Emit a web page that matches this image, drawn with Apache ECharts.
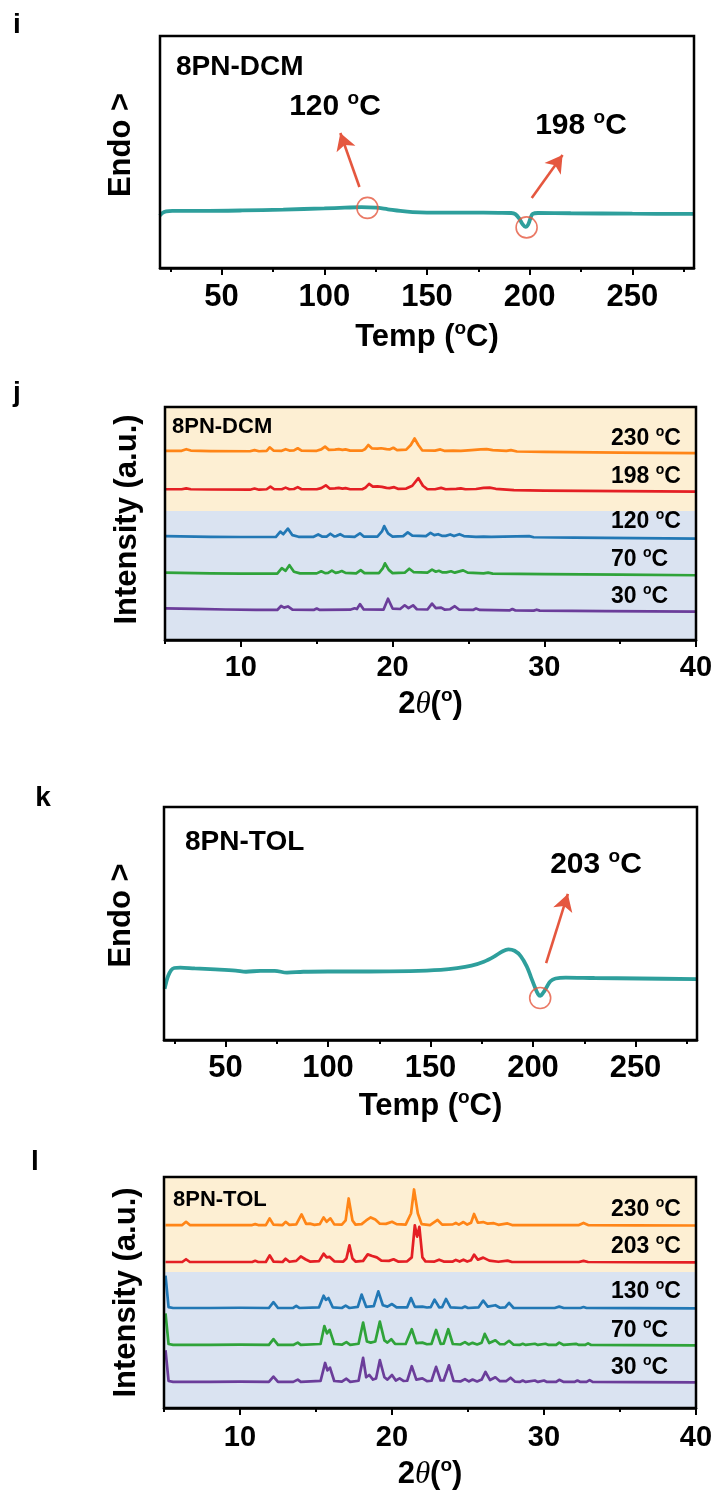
<!DOCTYPE html>
<html><head><meta charset="utf-8">
<script src="https://cdn.jsdelivr.net/npm/echarts@6/dist/echarts.min.js"></script>
<style>html,body{margin:0;padding:0;background:#fff}#c{width:716px;height:1490px}</style>
</head><body><div id="c"></div>
<script>
// ---------------- DATA ----------------
// DSC curves: [Temp (°C), heat flow (a.u., endo up)]
const dscDcm = [[20,22.6],[21,23.6],[23,24.4],[26,24.6],[40,24.6],[60,24.8],[80,25.2],[100,25.7],[110,26.0],[118,26.2],[125,26.0],[131,25.3],[137,24.6],[143,24.1],[150,23.9],[170,23.9],[185,23.8],[191,23.7],[193,23.2],[195,21.2],[196.5,18.9],[198,17.7],[199.3,18.8],[200.5,21.8],[201.5,23.3],[204,23.7],[220,23.6],[250,23.4],[280,23.3]];
const dscTol = [[20.3,22.0],[21,24.5],[22,27.5],[23.5,30],[25,30.9],[28,31.1],[35,30.7],[45,30.3],[55,29.8],[60,29.3],[67,29.7],[74,29.7],[80,28.9],[88,29.3],[100,29.4],[120,29.4],[140,29.6],[155,30.1],[163,30.8],[170,31.9],[176,33.6],[181,35.8],[185,38.0],[188,38.9],[191,38.3],[194,36.0],[197,31.5],[199,27.0],[201,22.5],[202.5,19.6],[203.5,18.9],[205,20.3],[206.5,22.4],[208.5,25.2],[211,26.4],[216,26.8],[230,26.6],[252,26.4],[280,26.1]];
const dscRange = [20, 280];
const dscMajorTicks = [50, 100, 150, 200, 250];
const dscMinorTicks = [25, 75, 125, 175, 225, 275];
// annotation circles and arrows (data coords)
const dcmMarks = [[121, 25.9], [198.5, 17.5]];
const dcmArrows = [[[117.1, 34.9], [107.8, 58.2]], [[201, 30.2], [216, 48.7]]];
const tolMarks = [[203.5, 18.0]];
const tolArrows = [[[206.4, 33.0], [217, 62.7]]];

// XRD (2θ, intensity relative to each trace baseline)
const xrdRange = [5, 40];
const xrdMajorTicks = [10, 20, 30, 40];
const xrdMinorTicks = [5, 15, 25, 35];
const dcmTemps = ['230', '198', '120', '70', '30'];
const tolTemps = ['230', '203', '130', '70', '30'];
const dcmOffsets = [81.2, 64.7, 44.6, 28.9, 13.6];
const tolOffsets = [79.2, 63.2, 43.3, 27.3, 11.3];
const dcmBoundary = 55.4;
const tolBoundary = 58.9;

const dcm230 = [[5,0],[6.1,0],[6.4,0.7],[6.7,0.1],[8,-0.1],[10.6,-0.2],[10.9,0.3],[11.2,-0.2],[11.7,0],[11.9,1.5],[12.15,0.1],[12.7,0],[12.95,0.7],[13.2,0.1],[13.5,0.2],[13.75,1.1],[14.0,0.1],[15.0,0],[15.3,0.6],[15.55,1.8],[15.8,0.4],[16.2,0.5],[16.45,0.7],[16.7,0.4],[16.9,0.6],[17.2,0.1],[18.0,0.1],[18.2,0.8],[18.4,2.5],[18.65,1.0],[19.0,0.9],[19.25,1.1],[19.6,0.7],[19.8,0.6],[20.05,1.3],[20.3,0.3],[20.9,0.5],[21.2,2.5],[21.45,5.3],[21.7,2.5],[21.95,0.2],[22.8,0.1],[23.15,0.6],[23.4,0],[24.0,0.1],[24.5,0],[25.2,0.3],[25.8,0.6],[26.2,0.7],[26.6,0.3],[27.5,0],[27.8,0.3],[28.2,-0.3],[30,-0.5],[35,-0.8],[40,-1.0]];
const dcm198 = [[5,0],[6.1,0],[6.4,0.4],[6.7,0],[8,-0.1],[10.6,-0.2],[10.9,0.3],[11.2,-0.2],[11.7,0],[11.95,1.1],[12.2,0],[12.7,0],[12.95,0.7],[13.2,0],[13.5,0.1],[13.75,0.9],[14.0,0],[15.0,0],[15.3,0.5],[15.6,1.7],[15.85,0.3],[16.2,0.4],[16.45,0.6],[16.7,0.3],[16.9,0.5],[17.2,0],[18.0,0],[18.2,0.6],[18.45,2.3],[18.7,1.1],[19.0,1.2],[19.3,1.0],[19.6,0.6],[19.8,0.5],[20.1,0.9],[20.35,0.2],[20.9,0.3],[21.3,1.5],[21.7,4.8],[22.0,1.5],[22.3,0],[22.8,0],[23.2,0.6],[23.5,0],[24.2,0.2],[24.5,0.4],[24.8,0],[25.5,0.1],[26.0,0.6],[26.4,0.7],[26.8,0.2],[28.0,-0.4],[30,-0.6],[35,-0.8],[40,-1.0]];
const dcm120 = [[5,0],[8,-0.3],[10,-0.4],[12.3,-0.4],[12.6,1.9],[12.8,0.8],[13.1,3.2],[13.4,0.4],[13.8,-0.3],[14.8,-0.3],[15.1,0.7],[15.35,-0.2],[15.65,-0.2],[15.9,1.0],[16.15,-0.1],[16.3,0],[16.55,0.8],[16.8,-0.1],[17.5,-0.3],[17.85,1.2],[18.1,-0.2],[19.0,-0.2],[19.3,2.0],[19.45,4.3],[19.7,1.2],[20.0,-0.2],[20.7,0],[21.0,1.6],[21.3,0.2],[22.2,0],[22.5,1.4],[22.75,0.4],[23.0,0.8],[23.25,0.1],[23.5,0.1],[23.8,0.7],[24.05,0],[24.4,0.8],[24.7,0],[25.5,-0.3],[26.0,-0.2],[26.5,-0.3],[29.0,0],[29.3,-0.5],[32,-0.7],[36,-0.9],[40,-1.1]];
const dcm70 = [[5,0],[8,-0.3],[10,-0.4],[12.4,-0.4],[12.7,1.9],[12.95,0.8],[13.2,3.2],[13.5,0.4],[13.9,-0.3],[15.0,-0.3],[15.3,0.6],[15.55,-0.2],[15.75,-0.1],[16.0,0.9],[16.25,-0.1],[16.4,0.1],[16.65,0.7],[16.9,-0.1],[17.6,-0.3],[17.9,1.1],[18.15,-0.2],[19.1,-0.2],[19.35,1.8],[19.5,4.0],[19.75,1.2],[20.0,-0.2],[20.8,0],[21.1,1.7],[21.4,0.2],[22.3,0],[22.6,1.3],[22.85,0.4],[23.05,0.8],[23.3,0.1],[23.55,0.1],[23.85,0.6],[24.1,0],[24.65,1.0],[24.95,0],[26.0,-0.3],[26.3,0],[26.6,-0.4],[30,-0.6],[35,-0.8],[40,-1.1]];
const dcm30 = [[5,0],[7,-0.2],[9,-0.5],[11,-0.7],[12.4,-0.7],[12.65,1.0],[12.85,0.3],[13.1,0.8],[13.4,-0.6],[14.8,-0.7],[15.0,-0.1],[15.2,-0.7],[17.2,-0.6],[17.5,0.0],[17.65,-0.3],[17.85,1.8],[18.1,-0.5],[19.4,-0.6],[19.7,4.1],[20.0,-0.1],[20.5,-0.3],[20.8,1.3],[21.05,0.1],[21.35,1.3],[21.6,-0.4],[22.3,-0.5],[22.6,2.0],[22.85,0.1],[23.2,0.3],[23.45,-0.6],[23.8,-0.4],[24.1,0.9],[24.4,-0.6],[25.3,-0.7],[25.5,-0.1],[25.75,-0.7],[27.7,-0.9],[27.9,-0.3],[28.1,-0.9],[29.3,-1.0],[29.5,-0.6],[29.7,-1.0],[34,-1.2],[40,-1.4]];

const tol230 = [[5.1,0],[6.2,0],[6.45,1.4],[6.7,0],[8,0],[10.8,0],[11.0,0.4],[11.2,0],[11.7,0],[11.95,2.9],[12.2,0.2],[12.8,0],[13.0,1.4],[13.25,0.1],[13.7,0.3],[14.05,4.6],[14.35,0.5],[14.6,0.6],[14.9,0.1],[15.25,0.4],[15.5,3.3],[15.7,1.4],[15.95,2.9],[16.2,0.3],[16.7,0.2],[16.95,2],[17.15,11.5],[17.4,2],[17.6,0.2],[18.0,0.4],[18.3,2.0],[18.6,3.3],[18.9,2.4],[19.2,0.6],[19.6,0.5],[20.0,1.4],[20.3,0.4],[20.9,0.2],[21.25,5],[21.45,15.4],[21.7,5],[21.95,0.4],[22.5,0],[23.0,2.2],[23.3,0.2],[24.0,0.3],[24.2,0.9],[24.4,0.2],[24.7,1.3],[24.95,0.2],[25.2,1],[25.4,4.8],[25.65,1],[26.0,1.3],[26.3,0.6],[26.7,0.8],[27.0,0.1],[27.6,0.7],[27.9,0],[30,0],[32.3,0],[32.6,0.9],[32.9,0],[36,-0.1],[40,-0.2]];
const tol203 = [[5.1,0],[6.2,0],[6.45,1.2],[6.7,0],[8,0],[10.8,0],[11.0,0.5],[11.2,0],[11.7,0],[11.95,2.9],[12.2,0.2],[12.8,0],[13.0,1.4],[13.25,0.1],[13.7,0.5],[14.0,2.4],[14.3,1.2],[14.6,0.2],[15.2,0.4],[15.5,3.6],[15.7,2],[15.9,2.2],[16.2,0.3],[16.8,0.2],[17.0,1.5],[17.2,7.2],[17.4,1.5],[17.6,0.2],[18.1,0.5],[18.4,3.3],[18.7,2.6],[19.0,2.0],[19.3,0.6],[19.8,0.5],[20.1,1.2],[20.4,0.2],[21.0,0.3],[21.3,2],[21.5,15.9],[21.65,11],[21.8,15.2],[22.0,2],[22.2,0.3],[22.8,0.2],[23.1,1.0],[23.4,0.2],[24.0,0.2],[24.2,0.9],[24.45,0.2],[24.7,1.0],[24.95,0.2],[25.2,0.8],[25.4,3.2],[25.65,1],[26.0,1.9],[26.4,0.6],[27.0,0.1],[27.6,0.6],[27.9,0],[32.3,0],[32.6,0.5],[32.9,0],[36,-0.1],[40,-0.2]];
const tol130 = [[5.1,14],[5.17,14.2],[5.3,0.4],[5.6,0],[8,0],[10,0.1],[11.9,0],[12.2,2.5],[12.5,0],[13.5,0],[13.7,0.9],[13.9,0],[15.2,0.3],[15.5,5.3],[15.65,3.5],[15.82,4.3],[16.1,0.3],[16.7,0],[16.95,1],[17.2,0],[17.75,0.5],[18.0,5.8],[18.3,0.5],[18.8,0.8],[19.1,7.2],[19.4,1.2],[19.7,0.6],[20.0,1.7],[20.3,0.3],[21.0,0.3],[21.25,4.3],[21.5,0.5],[22.0,0.6],[22.3,0.2],[22.55,0.4],[22.8,3.6],[23.1,0.3],[23.3,0.4],[23.55,3.9],[23.85,0.3],[24.6,0],[24.8,0.6],[25.0,0],[25.7,0.3],[26.0,3.2],[26.3,0.6],[26.8,1.2],[27.1,0.1],[27.45,0.3],[27.7,2.2],[28.0,0],[30.7,0],[31.0,0.6],[31.3,0],[32.4,0],[32.6,0.4],[32.8,0],[36,-0.1],[40,-0.2]];
const tol70 = [[5.1,13.7],[5.17,13.9],[5.3,0.4],[5.6,0],[8,0],[10,0.1],[11.9,0],[12.2,2.5],[12.5,0],[13.5,0],[13.8,1],[14.0,0],[15.3,0.4],[15.55,8.2],[15.72,5],[15.9,6.5],[16.2,0.4],[16.7,0.1],[17.0,1.2],[17.25,0],[17.8,0.5],[18.1,9.7],[18.35,1.5],[18.6,1],[18.9,1.5],[19.2,10.1],[19.5,2],[19.7,1],[19.95,2.5],[20.2,0.5],[20.9,0.4],[21.3,6.8],[21.6,0.8],[22.0,1],[22.3,0.3],[22.6,0.5],[22.9,6.5],[23.2,0.5],[23.4,0.6],[23.7,6.8],[24.0,0.4],[24.5,0.2],[24.8,1.2],[25.05,0.2],[25.3,0.9],[25.6,0.2],[25.9,1],[26.1,4.8],[26.4,0.8],[26.8,2],[27.1,0.3],[27.4,0.3],[27.7,1.8],[28.0,0.1],[28.4,0],[28.6,0.5],[28.8,0],[29.4,0.5],[29.6,0],[30.1,0.5],[30.3,0],[30.8,0],[31.0,1],[31.3,0],[32.1,0.5],[32.3,0],[32.7,0],[32.9,0.7],[33.1,0],[36,-0.1],[40,-0.2]];
const tol30 = [[5.1,13.7],[5.17,13.9],[5.3,0.4],[5.6,0],[8,0],[10,0.1],[11.9,0],[12.2,2.3],[12.5,0],[13.5,0],[13.8,1],[14.0,0],[15.3,0.4],[15.6,8.2],[15.75,5],[15.92,6.2],[16.2,0.4],[16.7,0.1],[17.0,1.4],[17.25,0],[17.8,0.5],[18.1,10.4],[18.3,2],[18.5,3],[18.75,1],[18.95,1.5],[19.2,9.4],[19.5,2],[19.7,1],[20.0,3],[20.25,0.6],[20.5,1.5],[20.75,0.4],[21.0,0.5],[21.3,6.8],[21.6,1],[22.0,1.5],[22.3,0.3],[22.6,0.5],[22.9,6.5],[23.2,0.6],[23.4,0.6],[23.75,7.2],[24.05,0.4],[24.5,0.2],[24.8,1.2],[25.05,0.2],[25.3,1],[25.6,0.2],[25.9,1],[26.15,4.3],[26.45,0.8],[26.8,2],[27.1,0.3],[27.5,0.3],[27.8,1.8],[28.1,0.1],[28.4,0],[28.6,0.6],[28.8,0],[29.4,0.6],[29.6,0],[30.0,0.6],[30.2,0],[30.8,0],[31.0,0.9],[31.3,0],[32.0,0],[32.2,0.6],[32.4,0],[32.8,0],[33.0,0.8],[33.2,0],[36,-0.1],[40,-0.2]];

const dcmProfiles = [dcm230, dcm198, dcm120, dcm70, dcm30];
const tolProfiles = [tol230, tol203, tol130, tol70, tol30];

// ---------------- STYLE ----------------
const FF = '"Liberation Sans", Arial, sans-serif';
const xrdColors = ['#ff8517', '#e41f24', '#2278b5', '#2fa33a', '#6b3d9a'];
const dscColor = '#2e9f9c';
const annColor = '#e5573f';
const bandOrange = '#fdefd3';
const bandBlue = '#dae3f1';

const chart = echarts.init(document.getElementById('c'), null, {renderer: 'canvas', width: 716, height: 1490});

const grids = [
  {left: 160, top: 36, width: 534, height: 232},
  {left: 165, top: 407, width: 531, height: 233},
  {left: 164, top: 807, width: 533, height: 233},
  {left: 164, top: 1177, width: 532, height: 231}
].map(g => Object.assign({show: true, z: 10, borderColor: '#000', borderWidth: 2.5, backgroundColor: 'transparent', containLabel: false, outerBoundsMode: 'none'}, g));

const supRich = (fs) => ({
  s: {fontSize: Math.round(fs * 0.62), fontWeight: 'bold', fontFamily: FF, color: '#000', fill: '#000', verticalAlign: 'top', height: Math.round(fs * 0.43), lineHeight: Math.round(fs * 0.43)},
  t: {fontSize: fs, fontStyle: 'italic', fontWeight: 'normal', fontFamily: '"Liberation Serif", "DejaVu Serif", serif', color: '#000', fill: '#000'}
});

function mainX(gi, range, labels, labelSize, name, nameGap, margin) {
  return {
    type: 'value', gridIndex: gi, min: range[0], max: range[1], position: 'bottom',
    splitLine: {show: false},
    axisLine: {show: true, lineStyle: {color: '#000', width: 2.5}},
    axisTick: {show: true, customValues: labels, length: 7, lineStyle: {color: '#000', width: 2}},
    axisLabel: {show: true, customValues: labels, margin: margin, color: '#000', fontFamily: FF, fontWeight: 'bold', fontSize: labelSize},
    name: name, nameLocation: 'middle', nameGap: nameGap,
    nameTextStyle: {color: '#000', fontFamily: FF, fontWeight: 'bold', fontSize: 31, rich: supRich(31)}
  };
}
function minorX(gi, range, ticks) {
  return {
    type: 'value', gridIndex: gi, min: range[0], max: range[1], position: 'bottom',
    splitLine: {show: false}, axisLine: {show: false},
    axisTick: {show: true, customValues: ticks, length: 4, lineStyle: {color: '#000', width: 2}},
    axisLabel: {show: false}
  };
}
function yAx(gi, name, nameGap, padLeft) {
  return {
    type: 'value', gridIndex: gi, min: 0, max: 100,
    splitLine: {show: false}, axisLine: {show: false}, axisTick: {show: false}, axisLabel: {show: false},
    name: name, nameLocation: 'middle', nameGap: nameGap,
    nameTextStyle: {color: '#000', fontFamily: FF, fontWeight: 'bold', fontSize: 31, padding: [0, 0, 0, padLeft]}
  };
}

const xAxes = [
  mainX(0, dscRange, dscMajorTicks, 31, 'Temp ({s|o}C)', 54, 14),
  minorX(0, dscRange, dscMinorTicks),
  mainX(1, xrdRange, xrdMajorTicks, 29, '2{t|θ}({s|o})', 49, 13),
  minorX(1, xrdRange, xrdMinorTicks),
  mainX(2, dscRange, dscMajorTicks, 31, 'Temp ({s|o}C)', 51, 13),
  minorX(2, dscRange, dscMinorTicks),
  mainX(3, xrdRange, xrdMajorTicks, 29, '2{t|θ}({s|o})', 51, 15),
  minorX(3, xrdRange, xrdMinorTicks)
];
const yAxes = [
  yAx(0, 'Endo >', 23, 14),
  yAx(1, 'Intensity (a.u.)', 22, 8),
  yAx(2, 'Endo >', 27, 16),
  yAx(3, 'Intensity (a.u.)', 22, 0)
];

const series = [];
function dscSeries(gi, data, marks, arrows) {
  series.push({
    type: 'line', xAxisIndex: gi * 2, yAxisIndex: gi, data: data, showSymbol: false, smooth: 0.35,
    lineStyle: {color: dscColor, width: 3.8}, z: 3, silent: true
  });
  series.push({
    type: 'scatter', xAxisIndex: gi * 2, yAxisIndex: gi, data: marks, symbol: 'circle', symbolSize: 21,
    itemStyle: {color: 'rgba(0,0,0,0)', borderColor: annColor, borderWidth: 1.6}, z: 6, silent: true,
    markLine: {
      silent: true, symbol: ['none', 'arrow'], symbolSize: [15, 17],
      lineStyle: {color: annColor, width: 2.6, type: 'solid'}, label: {show: false},
      data: arrows.map(a => [{coord: a[0]}, {coord: a[1]}])
    }
  });
}
function xrdSeries(gi, profiles, offsets, boundary) {
  profiles.forEach((p, i) => {
    const s = {
      type: 'line', xAxisIndex: gi * 2, yAxisIndex: gi, showSymbol: false, smooth: false, silent: true,
      data: p.map(d => [d[0], d[1] + offsets[i]]),
      lineStyle: {color: xrdColors[i], width: 2.7, join: 'round'}, z: 3
    };
    if (i === 0) {
      s.markArea = {
        silent: true,
        data: [
          [{xAxis: xrdRange[0], yAxis: boundary, itemStyle: {color: bandOrange}}, {xAxis: xrdRange[1], yAxis: 100}],
          [{xAxis: xrdRange[0], yAxis: 0, itemStyle: {color: bandBlue}}, {xAxis: xrdRange[1], yAxis: boundary}]
        ]
      };
    }
    series.push(s);
  });
}
dscSeries(0, dscDcm, dcmMarks, dcmArrows);
xrdSeries(1, dcmProfiles, dcmOffsets, dcmBoundary);
dscSeries(2, dscTol, tolMarks, tolArrows);
xrdSeries(3, tolProfiles, tolOffsets, tolBoundary);

function txt(x, y, text, size, align) {
  return {
    type: 'text', x: x, y: y, z: 20, silent: true,
    style: {
      text: text, fill: '#000', fontFamily: FF, fontWeight: 'bold', fontSize: size,
      align: align || 'left', verticalAlign: 'middle', rich: supRich(size)
    }
  };
}
const graphics = [
  txt(17, 25, 'i', 28, 'center'),
  txt(17, 393, 'j', 28, 'center'),
  txt(43, 798, 'k', 28, 'center'),
  txt(35, 1162, 'l', 28, 'center'),
  txt(176, 67, '8PN-DCM', 28),
  txt(335, 107, '120 {s|o}C', 30, 'center'),
  txt(581, 126, '198 {s|o}C', 30, 'center'),
  txt(172, 427, '8PN-DCM', 22),
  txt(185, 842, '8PN-TOL', 28),
  txt(596, 865, '203 {s|o}C', 30, 'center'),
  txt(173, 1200, '8PN-TOL', 22)
];
const dcmLabelY = [439, 477, 522, 560, 597];
const tolLabelY = [1210, 1247, 1292, 1331, 1368];
dcmTemps.forEach((t, i) => graphics.push(txt(611, dcmLabelY[i], t + ' {s|o}C', 23)));
tolTemps.forEach((t, i) => graphics.push(txt(611, tolLabelY[i], t + ' {s|o}C', 23)));

chart.setOption({
  animation: false,
  backgroundColor: '#fff',
  grid: grids,
  xAxis: xAxes,
  yAxis: yAxes,
  series: series,
  graphic: graphics
});
</script></body></html>
